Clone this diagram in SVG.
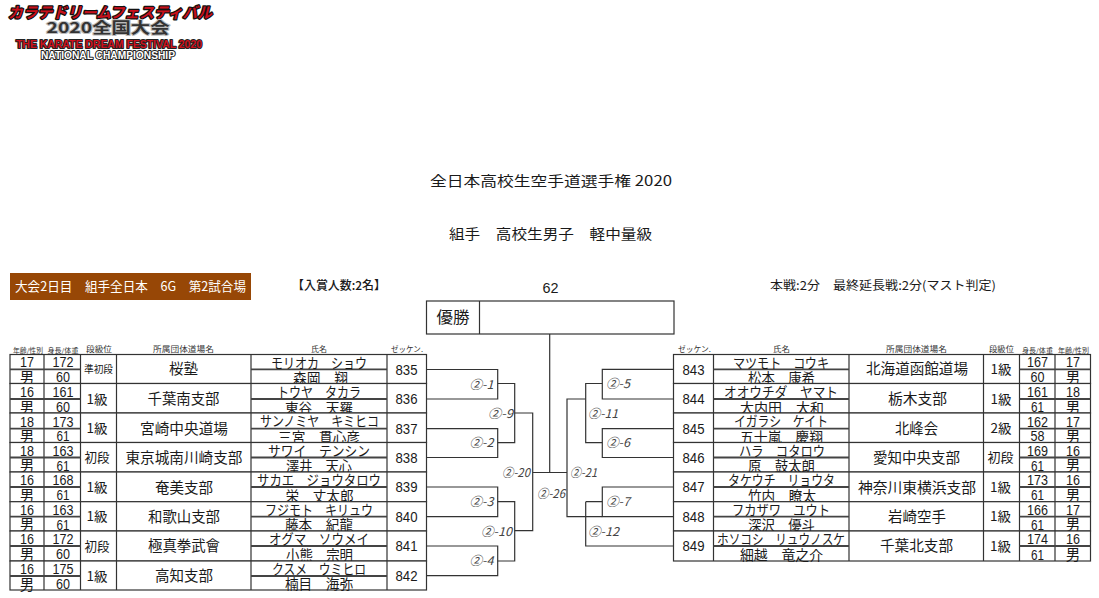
<svg xmlns="http://www.w3.org/2000/svg" width="1099" height="598" viewBox="0 0 1099 598">
<style>
text{font-family:"Liberation Sans","Noto Sans CJK JP",sans-serif;fill:#1a1a1a;text-anchor:middle}
.j{font-family:"Noto Sans CJK JP","Liberation Sans",sans-serif}
.n{font-size:14px}
.c{font-size:14.5px}
.r{font-size:13px}
.d{font-size:14.5px}
.h{font-size:8px;fill:#333}
.s{font-size:6.5px;fill:#333}
.t{font-size:14px}
.m{font-size:12px;font-style:italic;fill:#444}
.b{fill:#fff;stroke:#333;stroke-width:1.2}
.l{fill:none;stroke:#333;stroke-width:1.2}
.q{stroke:#444;stroke-width:1.8;fill:none}
.lg{font-weight:bold;paint-order:stroke;stroke-linejoin:round}
</style>
<g id="logo">
<text class="j lg" x="110" y="18" font-size="15" font-style="italic" textLength="204" lengthAdjust="spacingAndGlyphs" style="fill:#c8101c;stroke:#111;stroke-width:2.5">カラテドリームフェスティバル</text>
<text class="j lg" x="108" y="33" font-size="15" textLength="123" lengthAdjust="spacingAndGlyphs" style="fill:#333;stroke:#bbb;stroke-width:2">2020全国大会</text>
<text class="lg" x="109" y="48" font-size="10" textLength="186" lengthAdjust="spacingAndGlyphs" style="fill:#d0101c;stroke:#222;stroke-width:2">THE KARATE DREAM FESTIVAL 2020</text>
<text class="lg" x="108" y="59" font-size="10" textLength="134" lengthAdjust="spacingAndGlyphs" style="fill:#fff;stroke:#222;stroke-width:2">NATIONAL CHAMPIONSHIP</text>
</g>
<g id="titles">
<text class="j t" x="551" y="186" textLength="242" lengthAdjust="spacingAndGlyphs">全日本高校生空手道選手権 2020</text>
<text class="j t" x="550.5" y="239" textLength="203" lengthAdjust="spacingAndGlyphs">組手　高校生男子　軽中量級</text>
</g>
<g id="info">
<rect x="10" y="273" width="241" height="27" fill="#974706"/>
<text class="j" x="130.5" y="291" font-size="13" textLength="231" lengthAdjust="spacingAndGlyphs" style="fill:#fff">大会2日目　組手全日本　6G　第2試合場</text>
<text class="j" x="339" y="290" font-size="12" font-weight="500" textLength="94" lengthAdjust="spacingAndGlyphs">【入賞人数:2名】</text>
<text x="550.5" y="293" font-size="14.5" font-weight="500" textLength="16" lengthAdjust="spacingAndGlyphs">62</text>
<text class="j" x="883" y="290" font-size="12" textLength="226" lengthAdjust="spacingAndGlyphs">本戦:2分　最終延長戦:2分(マスト判定)</text>
</g>
<g id="winner">
<rect class="b" x="426.5" y="301" width="247.500" height="33"/>
<path class="l" d="M479.500 301V334"/>
<text class="j" x="453" y="323" font-size="15.500" textLength="33" lengthAdjust="spacingAndGlyphs">優勝</text>
</g>
<g id="headers">
<text class="j s" x="28" y="353" textLength="30" lengthAdjust="spacingAndGlyphs">年齢/性別</text>
<text class="j s" x="63" y="353" textLength="31" lengthAdjust="spacingAndGlyphs">身長/体重</text>
<text class="j h" x="99" y="352" textLength="26" lengthAdjust="spacingAndGlyphs">段級位</text>
<text class="j h" x="183.500" y="352" textLength="61" lengthAdjust="spacingAndGlyphs">所属団体道場名</text>
<text class="j h" x="319" y="352" textLength="16" lengthAdjust="spacingAndGlyphs">氏名</text>
<text class="j h" x="407" y="352" textLength="32" lengthAdjust="spacingAndGlyphs">ゼッケン.</text>
<text class="j h" x="694.500" y="352" textLength="33" lengthAdjust="spacingAndGlyphs">ゼッケン.</text>
<text class="j h" x="781.500" y="352" textLength="17" lengthAdjust="spacingAndGlyphs">氏名</text>
<text class="j h" x="916.500" y="352" textLength="61" lengthAdjust="spacingAndGlyphs">所属団体道場名</text>
<text class="j h" x="1001.500" y="352" textLength="25" lengthAdjust="spacingAndGlyphs">段級位</text>
<text class="j s" x="1037.500" y="353" textLength="31" lengthAdjust="spacingAndGlyphs">身長/体重</text>
<text class="j s" x="1073.500" y="353" textLength="31" lengthAdjust="spacingAndGlyphs">年齢/性別</text>
</g>
<g id="L835">
<rect class="b" x="10" y="354.500" width="416.500" height="29"/>
<path class="l" d="M44 354.500V383.500M80.500 354.500V383.500M116.500 354.500V383.500M251 354.500V383.500M387 354.500V383.500"/>
<path class="q" d="M10 369.300H80.500M251 369.300H387"/>
<text class="d" x="27" y="367" textLength="14" lengthAdjust="spacingAndGlyphs">17</text><text class="j d" x="27" y="382.500">男</text>
<text class="d" x="63" y="367" textLength="21" lengthAdjust="spacingAndGlyphs">172</text><text class="d" x="63" y="382" textLength="14" lengthAdjust="spacingAndGlyphs">60</text>
<text class="j" font-size="10.500" x="98.500" y="373" textLength="29" lengthAdjust="spacingAndGlyphs">準初段</text>
<text class="j c" x="183.500" y="374" textLength="29" lengthAdjust="spacingAndGlyphs">桜塾</text>
<text class="j n" x="319" y="367.500" textLength="96" lengthAdjust="spacingAndGlyphs">モリオカ　ショウ</text>
<text class="j n" x="320.500" y="383" textLength="55" lengthAdjust="spacingAndGlyphs">森岡　翔</text>
<text class="d" x="406.500" y="374.500" textLength="22" lengthAdjust="spacingAndGlyphs">835</text>
</g>
<g id="L836">
<rect class="b" x="10" y="383.500" width="416.500" height="29.500"/>
<path class="l" d="M44 383.500V413M80.500 383.500V413M116.500 383.500V413M251 383.500V413M387 383.500V413"/>
<path class="q" d="M10 399H80.500M251 399H387"/>
<text class="d" x="27" y="397" textLength="14" lengthAdjust="spacingAndGlyphs">16</text><text class="j d" x="27" y="412.500">男</text>
<text class="d" x="63" y="397" textLength="21" lengthAdjust="spacingAndGlyphs">161</text><text class="d" x="63" y="411.500" textLength="14" lengthAdjust="spacingAndGlyphs">60</text>
<text class="j r" x="97" y="404" textLength="21" lengthAdjust="spacingAndGlyphs">1級</text>
<text class="j c" x="183.500" y="404" textLength="72" lengthAdjust="spacingAndGlyphs">千葉南支部</text>
<text class="j n" x="319" y="397" textLength="84" lengthAdjust="spacingAndGlyphs">トウヤ　タカラ</text>
<text class="j n" x="319" y="412.500" textLength="68" lengthAdjust="spacingAndGlyphs">東谷　天羅</text>
<text class="d" x="406.500" y="404" textLength="22" lengthAdjust="spacingAndGlyphs">836</text>
</g>
<g id="L837">
<rect class="b" x="10" y="413" width="416.500" height="29.500"/>
<path class="l" d="M44 413V442.500M80.500 413V442.500M116.500 413V442.500M251 413V442.500M387 413V442.500"/>
<path class="q" d="M10 428.700H80.500M251 428.700H387"/>
<text class="d" x="27" y="426.500" textLength="14" lengthAdjust="spacingAndGlyphs">18</text><text class="j d" x="27" y="441.500">男</text>
<text class="d" x="63" y="426.500" textLength="21" lengthAdjust="spacingAndGlyphs">173</text><text class="d" x="63" y="441" textLength="13" lengthAdjust="spacingAndGlyphs">61</text>
<text class="j r" x="97" y="433" textLength="21" lengthAdjust="spacingAndGlyphs">1級</text>
<text class="j c" x="184" y="433.500" textLength="88" lengthAdjust="spacingAndGlyphs">宮崎中央道場</text>
<text class="j n" x="319.500" y="426" textLength="119" lengthAdjust="spacingAndGlyphs">サンノミヤ　キミヒコ</text>
<text class="j n" x="319" y="442" textLength="82" lengthAdjust="spacingAndGlyphs">三宮　貫心彦</text>
<text class="d" x="406.500" y="433.500" textLength="22" lengthAdjust="spacingAndGlyphs">837</text>
</g>
<g id="L838">
<rect class="b" x="10" y="442.500" width="416.500" height="29.500"/>
<path class="l" d="M44 442.500V472M80.500 442.500V472M116.500 442.500V472M251 442.500V472M387 442.500V472"/>
<path class="q" d="M10 457.500H80.500M251 457.500H387"/>
<text class="d" x="27" y="455.500" textLength="14" lengthAdjust="spacingAndGlyphs">18</text><text class="j d" x="27" y="471">男</text>
<text class="d" x="63" y="455.500" textLength="21" lengthAdjust="spacingAndGlyphs">163</text><text class="d" x="63" y="470.500" textLength="13" lengthAdjust="spacingAndGlyphs">61</text>
<text class="j r" x="97" y="462" textLength="25" lengthAdjust="spacingAndGlyphs">初段</text>
<text class="j c" x="184" y="462.500" textLength="117" lengthAdjust="spacingAndGlyphs">東京城南川崎支部</text>
<text class="j n" x="319" y="455.500" textLength="102" lengthAdjust="spacingAndGlyphs">サワイ　テンシン</text>
<text class="j n" x="319" y="471" textLength="66" lengthAdjust="spacingAndGlyphs">澤井　天心</text>
<text class="d" x="406.500" y="462.500" textLength="22" lengthAdjust="spacingAndGlyphs">838</text>
</g>
<g id="L839">
<rect class="b" x="10" y="472" width="416.500" height="29.700"/>
<path class="l" d="M44 472V501.700M80.500 472V501.700M116.500 472V501.700M251 472V501.700M387 472V501.700"/>
<path class="q" d="M10 487H80.500M251 487H387"/>
<text class="d" x="27" y="485" textLength="14" lengthAdjust="spacingAndGlyphs">16</text><text class="j d" x="27" y="501">男</text>
<text class="d" x="63" y="485" textLength="21" lengthAdjust="spacingAndGlyphs">168</text><text class="d" x="63" y="500" textLength="13" lengthAdjust="spacingAndGlyphs">61</text>
<text class="j r" x="97" y="492" textLength="21" lengthAdjust="spacingAndGlyphs">1級</text>
<text class="j c" x="184" y="492.500" textLength="58" lengthAdjust="spacingAndGlyphs">奄美支部</text>
<text class="j n" x="319" y="485" textLength="124" lengthAdjust="spacingAndGlyphs">サカエ　ジョウタロウ</text>
<text class="j n" x="319.500" y="500.500" textLength="68" lengthAdjust="spacingAndGlyphs">栄　丈太郎</text>
<text class="d" x="406.500" y="492" textLength="22" lengthAdjust="spacingAndGlyphs">839</text>
</g>
<g id="L840">
<rect class="b" x="10" y="501.700" width="416.500" height="29.300"/>
<path class="l" d="M44 501.700V531M80.500 501.700V531M116.500 501.700V531M251 501.700V531M387 501.700V531"/>
<path class="q" d="M10 516.700H80.500M251 516.700H387"/>
<text class="d" x="27" y="514.500" textLength="14" lengthAdjust="spacingAndGlyphs">16</text><text class="j d" x="27" y="530">男</text>
<text class="d" x="63" y="514.500" textLength="21" lengthAdjust="spacingAndGlyphs">163</text><text class="d" x="63" y="529.500" textLength="13" lengthAdjust="spacingAndGlyphs">61</text>
<text class="j r" x="97" y="521" textLength="21" lengthAdjust="spacingAndGlyphs">1級</text>
<text class="j c" x="184" y="521.500" textLength="72" lengthAdjust="spacingAndGlyphs">和歌山支部</text>
<text class="j n" x="319" y="514.500" textLength="108" lengthAdjust="spacingAndGlyphs">フジモト　キリュウ</text>
<text class="j n" x="319" y="530" textLength="68" lengthAdjust="spacingAndGlyphs">藤本　紀龍</text>
<text class="d" x="406.500" y="521.500" textLength="22" lengthAdjust="spacingAndGlyphs">840</text>
</g>
<g id="L841">
<rect class="b" x="10" y="531" width="416.500" height="30"/>
<path class="l" d="M44 531V561M80.500 531V561M116.500 531V561M251 531V561M387 531V561"/>
<path class="q" d="M10 546H80.500M251 546H387"/>
<text class="d" x="27" y="544" textLength="14" lengthAdjust="spacingAndGlyphs">16</text><text class="j d" x="27" y="560">男</text>
<text class="d" x="63" y="544" textLength="21" lengthAdjust="spacingAndGlyphs">172</text><text class="d" x="63" y="559" textLength="14" lengthAdjust="spacingAndGlyphs">60</text>
<text class="j r" x="97" y="551" textLength="25" lengthAdjust="spacingAndGlyphs">初段</text>
<text class="j c" x="184" y="551" textLength="72" lengthAdjust="spacingAndGlyphs">極真拳武會</text>
<text class="j n" x="319" y="544" textLength="100" lengthAdjust="spacingAndGlyphs">オグマ　ソウメイ</text>
<text class="j n" x="319.500" y="560" textLength="67" lengthAdjust="spacingAndGlyphs">小熊　宗明</text>
<text class="d" x="406.500" y="551" textLength="22" lengthAdjust="spacingAndGlyphs">841</text>
</g>
<g id="L842">
<rect class="b" x="10" y="561" width="416.500" height="29"/>
<path class="l" d="M44 561V590M80.500 561V590M116.500 561V590M251 561V590M387 561V590"/>
<path class="q" d="M10 576H80.500M251 576H387"/>
<text class="d" x="27" y="574" textLength="14" lengthAdjust="spacingAndGlyphs">16</text><text class="j d" x="27" y="589.500">男</text>
<text class="d" x="63" y="574" textLength="21" lengthAdjust="spacingAndGlyphs">175</text><text class="d" x="63" y="589" textLength="14" lengthAdjust="spacingAndGlyphs">60</text>
<text class="j r" x="97" y="581" textLength="21" lengthAdjust="spacingAndGlyphs">1級</text>
<text class="j c" x="184" y="581" textLength="58" lengthAdjust="spacingAndGlyphs">高知支部</text>
<text class="j n" x="319" y="574" textLength="94" lengthAdjust="spacingAndGlyphs">クスメ　ウミヒロ</text>
<text class="j n" x="319" y="589" textLength="68" lengthAdjust="spacingAndGlyphs">楠目　海弥</text>
<text class="d" x="406.500" y="581" textLength="22" lengthAdjust="spacingAndGlyphs">842</text>
</g>
<g id="R843">
<rect class="b" x="673.500" y="354.500" width="417" height="29"/>
<path class="l" d="M713.500 354.500V383.500M849 354.500V383.500M983.500 354.500V383.500M1019.500 354.500V383.500M1055 354.500V383.500"/>
<path class="q" d="M713.500 369.300H849M1019.500 369.300H1090.500"/>
<text class="d" x="693.500" y="374.500" textLength="22" lengthAdjust="spacingAndGlyphs">843</text>
<text class="j n" x="781" y="367.500" textLength="96" lengthAdjust="spacingAndGlyphs">マツモト　コウキ</text>
<text class="j n" x="781.500" y="383" textLength="67" lengthAdjust="spacingAndGlyphs">松本　康希</text>
<text class="j c" x="917" y="374" textLength="102" lengthAdjust="spacingAndGlyphs">北海道函館道場</text>
<text class="j r" x="1001" y="373.500" textLength="21" lengthAdjust="spacingAndGlyphs">1級</text>
<text class="d" x="1037.500" y="367" textLength="21" lengthAdjust="spacingAndGlyphs">167</text><text class="d" x="1037.500" y="382" textLength="14" lengthAdjust="spacingAndGlyphs">60</text>
<text class="d" x="1073" y="367" textLength="14" lengthAdjust="spacingAndGlyphs">17</text><text class="j d" x="1073" y="382.500">男</text>
</g>
<g id="R844">
<rect class="b" x="673.500" y="383.500" width="417" height="29.500"/>
<path class="l" d="M713.500 383.500V413M849 383.500V413M983.500 383.500V413M1019.500 383.500V413M1055 383.500V413"/>
<path class="q" d="M713.500 399H849M1019.500 399H1090.500"/>
<text class="d" x="693.500" y="404" textLength="22" lengthAdjust="spacingAndGlyphs">844</text>
<text class="j n" x="781" y="397" textLength="114" lengthAdjust="spacingAndGlyphs">オオウチダ　ヤマト</text>
<text class="j n" x="782" y="412.500" textLength="84" lengthAdjust="spacingAndGlyphs">大内田　大和</text>
<text class="j c" x="917.500" y="404" textLength="59" lengthAdjust="spacingAndGlyphs">栃木支部</text>
<text class="j r" x="1001" y="403.500" textLength="21" lengthAdjust="spacingAndGlyphs">1級</text>
<text class="d" x="1037.500" y="397" textLength="21" lengthAdjust="spacingAndGlyphs">161</text><text class="d" x="1037.500" y="411.500" textLength="13" lengthAdjust="spacingAndGlyphs">61</text>
<text class="d" x="1073" y="397" textLength="14" lengthAdjust="spacingAndGlyphs">18</text><text class="j d" x="1073" y="412.500">男</text>
</g>
<g id="R845">
<rect class="b" x="673.500" y="413" width="417" height="29.500"/>
<path class="l" d="M713.500 413V442.500M849 413V442.500M983.500 413V442.500M1019.500 413V442.500M1055 413V442.500"/>
<path class="q" d="M713.500 428.700H849M1019.500 428.700H1090.500"/>
<text class="d" x="693.500" y="433.500" textLength="22" lengthAdjust="spacingAndGlyphs">845</text>
<text class="j n" x="781" y="426" textLength="94" lengthAdjust="spacingAndGlyphs">イガラシ　ケイト</text>
<text class="j n" x="781.500" y="442" textLength="83" lengthAdjust="spacingAndGlyphs">五十嵐　慶翔</text>
<text class="j c" x="916.500" y="433.500" textLength="43" lengthAdjust="spacingAndGlyphs">北峰会</text>
<text class="j r" x="1001" y="433" textLength="21" lengthAdjust="spacingAndGlyphs">2級</text>
<text class="d" x="1037.500" y="426.500" textLength="21" lengthAdjust="spacingAndGlyphs">162</text><text class="d" x="1037.500" y="441" textLength="14" lengthAdjust="spacingAndGlyphs">58</text>
<text class="d" x="1073" y="426.500" textLength="14" lengthAdjust="spacingAndGlyphs">17</text><text class="j d" x="1073" y="441.500">男</text>
</g>
<g id="R846">
<rect class="b" x="673.500" y="442.500" width="417" height="29.500"/>
<path class="l" d="M713.500 442.500V472M849 442.500V472M983.500 442.500V472M1019.500 442.500V472M1055 442.500V472"/>
<path class="q" d="M713.500 457.500H849M1019.500 457.500H1090.500"/>
<text class="d" x="693.500" y="462.500" textLength="22" lengthAdjust="spacingAndGlyphs">846</text>
<text class="j n" x="782" y="455.500" textLength="86" lengthAdjust="spacingAndGlyphs">ハラ　コタロウ</text>
<text class="j n" x="781.500" y="471" textLength="67" lengthAdjust="spacingAndGlyphs">原　鼓太朗</text>
<text class="j c" x="916.500" y="462.500" textLength="87" lengthAdjust="spacingAndGlyphs">愛知中央支部</text>
<text class="j r" x="1000.500" y="462" textLength="26" lengthAdjust="spacingAndGlyphs">初段</text>
<text class="d" x="1037.500" y="455.500" textLength="21" lengthAdjust="spacingAndGlyphs">169</text><text class="d" x="1037.500" y="470.500" textLength="13" lengthAdjust="spacingAndGlyphs">61</text>
<text class="d" x="1073" y="455.500" textLength="14" lengthAdjust="spacingAndGlyphs">16</text><text class="j d" x="1073" y="471">男</text>
</g>
<g id="R847">
<rect class="b" x="673.500" y="472" width="417" height="29.700"/>
<path class="l" d="M713.500 472V501.700M849 472V501.700M983.500 472V501.700M1019.500 472V501.700M1055 472V501.700"/>
<path class="q" d="M713.500 487H849M1019.500 487H1090.500"/>
<text class="d" x="693.500" y="492" textLength="22" lengthAdjust="spacingAndGlyphs">847</text>
<text class="j n" x="781.500" y="485" textLength="107" lengthAdjust="spacingAndGlyphs">タケウチ　リョウタ</text>
<text class="j n" x="782" y="500.500" textLength="68" lengthAdjust="spacingAndGlyphs">竹内　瞭太</text>
<text class="j c" x="917" y="492.500" textLength="118" lengthAdjust="spacingAndGlyphs">神奈川東横浜支部</text>
<text class="j r" x="1000.500" y="492" textLength="21" lengthAdjust="spacingAndGlyphs">1級</text>
<text class="d" x="1037.500" y="485" textLength="21" lengthAdjust="spacingAndGlyphs">173</text><text class="d" x="1037.500" y="500" textLength="13" lengthAdjust="spacingAndGlyphs">61</text>
<text class="d" x="1073" y="485" textLength="14" lengthAdjust="spacingAndGlyphs">16</text><text class="j d" x="1073" y="501">男</text>
</g>
<g id="R848">
<rect class="b" x="673.500" y="501.700" width="417" height="29.300"/>
<path class="l" d="M713.500 501.700V531M849 501.700V531M983.500 501.700V531M1019.500 501.700V531M1055 501.700V531"/>
<path class="q" d="M713.500 516.700H849M1019.500 516.700H1090.500"/>
<text class="d" x="693.500" y="521.500" textLength="22" lengthAdjust="spacingAndGlyphs">848</text>
<text class="j n" x="781" y="514.500" textLength="98" lengthAdjust="spacingAndGlyphs">フカザワ　ユウト</text>
<text class="j n" x="781.500" y="530" textLength="67" lengthAdjust="spacingAndGlyphs">深沢　優斗</text>
<text class="j c" x="917" y="521.500" textLength="58" lengthAdjust="spacingAndGlyphs">岩崎空手</text>
<text class="j r" x="1000.500" y="521" textLength="21" lengthAdjust="spacingAndGlyphs">1級</text>
<text class="d" x="1037.500" y="514.500" textLength="21" lengthAdjust="spacingAndGlyphs">166</text><text class="d" x="1037.500" y="529.500" textLength="13" lengthAdjust="spacingAndGlyphs">61</text>
<text class="d" x="1073" y="514.500" textLength="14" lengthAdjust="spacingAndGlyphs">17</text><text class="j d" x="1073" y="530">男</text>
</g>
<g id="R849">
<rect class="b" x="673.500" y="531" width="417" height="30"/>
<path class="l" d="M713.500 531V561M849 531V561M983.500 531V561M1019.500 531V561M1055 531V561"/>
<path class="q" d="M713.500 546H849M1019.500 546H1090.500"/>
<text class="d" x="693.500" y="551" textLength="22" lengthAdjust="spacingAndGlyphs">849</text>
<text class="j n" x="781" y="544" textLength="128" lengthAdjust="spacingAndGlyphs">ホソコシ　リュウノスケ</text>
<text class="j n" x="781.500" y="560" textLength="83" lengthAdjust="spacingAndGlyphs">細越　竜之介</text>
<text class="j c" x="916.500" y="551" textLength="73" lengthAdjust="spacingAndGlyphs">千葉北支部</text>
<text class="j r" x="1000.500" y="551" textLength="21" lengthAdjust="spacingAndGlyphs">1級</text>
<text class="d" x="1037.500" y="544" textLength="21" lengthAdjust="spacingAndGlyphs">174</text><text class="d" x="1037.500" y="559.500" textLength="13" lengthAdjust="spacingAndGlyphs">61</text>
<text class="d" x="1073" y="544" textLength="14" lengthAdjust="spacingAndGlyphs">16</text><text class="j d" x="1073" y="560">男</text>
</g>
<g id="connectors">
<path class="l" d="M426.500 369.500H497.700V399H426.500M426.500 428.700H497.700V457.500H426.500M426.500 487H497.700V516.700H426.500M426.500 546H497.700V575.700H426.500"/>
<path class="l" d="M497.700 383.500H514.700V442.700H497.700M497.700 501.700H514.700V561H497.700"/>
<path class="l" d="M514.700 413H532.700V530.700H514.700"/>
<path class="l" d="M532.700 472.500H567M549.700 334V472.500"/>
<path class="l" d="M585.700 399H567V516.700H602.300"/>
<path class="l" d="M602.300 383.500H585.700V442.700H602.300M585.700 501.700V546H673.500M602.300 501.700H585.700"/>
<path class="l" d="M673.500 369.300H602.300V399H673.500M673.500 428.700H602.300V457.500H673.500M673.500 487H602.300V516.700H673.500"/>
</g>
<g id="labels">
<text class="j m" x="481.500" y="389" textLength="24" lengthAdjust="spacingAndGlyphs">②-1</text>
<text class="j m" x="500.500" y="418" textLength="25" lengthAdjust="spacingAndGlyphs">②-9</text>
<text class="j m" x="481.500" y="447" textLength="24" lengthAdjust="spacingAndGlyphs">②-2</text>
<text class="j m" x="516" y="477" textLength="28" lengthAdjust="spacingAndGlyphs">②-20</text>
<text class="j m" x="481.500" y="506" textLength="24" lengthAdjust="spacingAndGlyphs">②-3</text>
<text class="j m" x="496.500" y="536" textLength="31" lengthAdjust="spacingAndGlyphs">②-10</text>
<text class="j m" x="481.500" y="565" textLength="24" lengthAdjust="spacingAndGlyphs">②-4</text>
<text class="j m" x="618" y="388" textLength="24" lengthAdjust="spacingAndGlyphs">②-5</text>
<text class="j m" x="603" y="418" textLength="30" lengthAdjust="spacingAndGlyphs">②-11</text>
<text class="j m" x="618" y="447" textLength="24" lengthAdjust="spacingAndGlyphs">②-6</text>
<text class="j m" x="583.500" y="477" textLength="27" lengthAdjust="spacingAndGlyphs">②-21</text>
<text class="j m" x="551" y="498" textLength="28" lengthAdjust="spacingAndGlyphs">②-26</text>
<text class="j m" x="618" y="506" textLength="24" lengthAdjust="spacingAndGlyphs">②-7</text>
<text class="j m" x="603.500" y="536" textLength="31" lengthAdjust="spacingAndGlyphs">②-12</text>
</g>
</svg>
